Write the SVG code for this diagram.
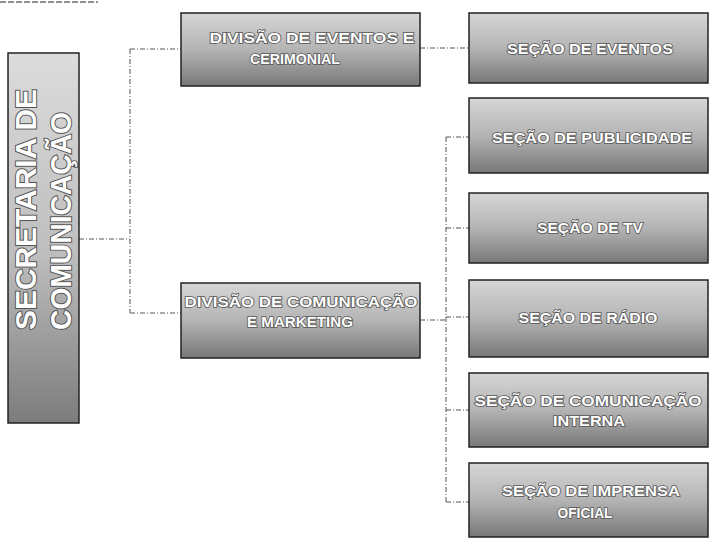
<svg xmlns="http://www.w3.org/2000/svg" width="710" height="539" viewBox="0 0 710 539">
<defs>
<linearGradient id="g" x1="0" y1="0" x2="0" y2="1">
<stop offset="0" stop-color="#d6d6d6"/>
<stop offset="0.5" stop-color="#b4b4b4"/>
<stop offset="1" stop-color="#787878"/>
</linearGradient>
<linearGradient id="gv" x1="0" y1="0" x2="0" y2="1">
<stop offset="0" stop-color="#dcdcdc"/>
<stop offset="0.55" stop-color="#bdbdbd"/>
<stop offset="1" stop-color="#7c7c7c"/>
</linearGradient>
</defs>
<style>
.box{fill:url(#g);stroke:#222;stroke-width:1.5}
.t{font-family:"Liberation Sans",Arial,sans-serif;font-weight:bold;font-size:15px;fill:#fff;stroke:#555;stroke-width:1.6;paint-order:stroke;text-anchor:middle}
.tv{font-family:"Liberation Sans",Arial,sans-serif;font-weight:bold;font-size:30px;fill:#fff;stroke:#555;stroke-width:2;paint-order:stroke}
.c{fill:none;stroke:#555;stroke-width:1;stroke-dasharray:5 2 1 2}
</style>
<line x1="0" y1="2" x2="98" y2="2" stroke="#222" stroke-width="1.2" stroke-dasharray="6 2"/>
<g id="connectors">
<path class="c" d="M79 239 H130 M130 49 V313 M130 49 H182 M130 313 H182"/>
<path class="c" d="M420 48 H469"/>
<path class="c" d="M420 320 H446 M446 137 V502 M446 137 H469 M446 228 H469 M446 317 H469 M446 410 H469 M446 502 H469"/>
</g>
<g id="secretaria">
<rect x="8" y="53" width="71" height="370" fill="url(#gv)" stroke="#222" stroke-width="1.5"/>
<text class="tv" transform="translate(36,330) rotate(-90)" textLength="241" lengthAdjust="spacingAndGlyphs">SECRETARIA DE</text>
<text class="tv" transform="translate(71,330) rotate(-90)" textLength="218" lengthAdjust="spacingAndGlyphs">COMUNICAÇÃO</text>
</g>
<g id="div-eventos">
<rect class="box" x="181" y="13" width="239" height="73"/>
<text class="t" x="312" y="43" textLength="205" lengthAdjust="spacingAndGlyphs">DIVISÃO DE EVENTOS E</text>
<text class="t" x="295" y="64" textLength="90" lengthAdjust="spacingAndGlyphs">CERIMONIAL</text>
</g>
<g id="div-comunicacao">
<rect class="box" x="181" y="283" width="239" height="75"/>
<text class="t" x="301" y="307" textLength="233" lengthAdjust="spacingAndGlyphs">DIVISÃO DE COMUNICAÇÃO</text>
<text class="t" x="300" y="327" textLength="106" lengthAdjust="spacingAndGlyphs">E MARKETING</text>
</g>
<g id="sec-eventos">
<rect class="box" x="469" y="13" width="239" height="70"/>
<text class="t" x="590" y="54" textLength="166" lengthAdjust="spacingAndGlyphs">SEÇÃO DE EVENTOS</text>
</g>
<g id="sec-publicidade">
<rect class="box" x="469" y="98" width="239" height="75"/>
<text class="t" x="592" y="143" textLength="200" lengthAdjust="spacingAndGlyphs">SEÇÃO DE PUBLICIDADE</text>
</g>
<g id="sec-tv">
<rect class="box" x="469" y="193" width="239" height="70"/>
<text class="t" x="590" y="233" textLength="106" lengthAdjust="spacingAndGlyphs">SEÇÃO DE TV</text>
</g>
<g id="sec-radio">
<rect class="box" x="469" y="280" width="239" height="77"/>
<text class="t" x="588" y="323" textLength="139" lengthAdjust="spacingAndGlyphs">SEÇÃO DE RÁDIO</text>
</g>
<g id="sec-com-interna">
<rect class="box" x="469" y="373" width="239" height="74"/>
<text class="t" x="588" y="406" textLength="227" lengthAdjust="spacingAndGlyphs">SEÇÃO DE COMUNICAÇÃO</text>
<text class="t" x="589" y="426" textLength="72" lengthAdjust="spacingAndGlyphs">INTERNA</text>
</g>
<g id="sec-imprensa">
<rect class="box" x="469" y="463" width="239" height="74"/>
<text class="t" x="591" y="496" textLength="178" lengthAdjust="spacingAndGlyphs">SEÇÃO DE IMPRENSA</text>
<text class="t" x="585" y="518" textLength="55" lengthAdjust="spacingAndGlyphs">OFICIAL</text>
</g>
</svg>
